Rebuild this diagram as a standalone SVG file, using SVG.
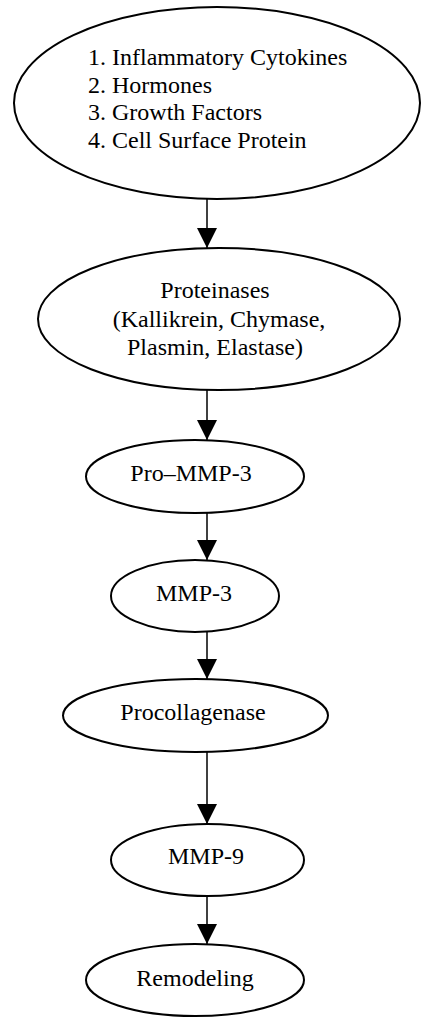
<svg xmlns="http://www.w3.org/2000/svg" width="421" height="1017" viewBox="0 0 421 1017">
<style>
.n{fill:#fff;stroke:#000;stroke-width:2}
.t{font-family:"Liberation Serif","Times New Roman",serif;font-size:24px;fill:#000}
.c{text-anchor:middle}
.e{stroke:#000;stroke-width:1.5;fill:none}
</style>
<defs>
<marker id="ah" markerWidth="20" markerHeight="20" viewBox="0 0 20 20" refX="20" refY="10" orient="auto" markerUnits="userSpaceOnUse">
<path d="M0,0 L20,10 L0,20 Z" fill="#000"/>
</marker>
</defs>
<g id="n1">
<ellipse class="n" cx="217" cy="103" rx="203" ry="96"/>
<text class="t" x="88" y="65">1. Inflammatory Cytokines</text>
<text class="t" x="88" y="92.5">2. Hormones</text>
<text class="t" x="88" y="120">3. Growth Factors</text>
<text class="t" x="88" y="147.5">4. Cell Surface Protein</text>
</g>
<g id="n2">
<ellipse class="n" cx="219" cy="319" rx="181" ry="71"/>
<text class="t c" x="215" y="298">Proteinases</text>
<text class="t c" x="219" y="327">(Kallikrein, Chymase,</text>
<text class="t c" x="215" y="355">Plasmin, Elastase)</text>
</g>
<g id="n3">
<ellipse class="n" cx="195" cy="476.5" rx="109" ry="36.5"/>
<text class="t c" x="191" y="481">Pro–MMP-3</text>
</g>
<g id="n4">
<ellipse class="n" cx="195" cy="596" rx="84" ry="36"/>
<text class="t c" x="194" y="601">MMP-3</text>
</g>
<g id="n5">
<ellipse class="n" cx="195.5" cy="715.5" rx="132.5" ry="36.5"/>
<text class="t c" x="193" y="720">Procollagenase</text>
</g>
<g id="n6">
<ellipse class="n" cx="207.5" cy="860" rx="96.5" ry="36"/>
<text class="t c" x="206" y="864">MMP-9</text>
</g>
<g id="n7">
<ellipse class="n" cx="195" cy="980" rx="109" ry="36"/>
<text class="t c" x="195" y="986">Remodeling</text>
</g>
<g id="edges">
<line class="e" x1="207" y1="199" x2="207" y2="248" marker-end="url(#ah)"/>
<line class="e" x1="207" y1="390" x2="207" y2="440" marker-end="url(#ah)"/>
<line class="e" x1="207" y1="513" x2="207" y2="560" marker-end="url(#ah)"/>
<line class="e" x1="207" y1="632" x2="207" y2="679" marker-end="url(#ah)"/>
<line class="e" x1="207" y1="752" x2="207" y2="824" marker-end="url(#ah)"/>
<line class="e" x1="207" y1="896" x2="207" y2="944" marker-end="url(#ah)"/>
</g>
</svg>
